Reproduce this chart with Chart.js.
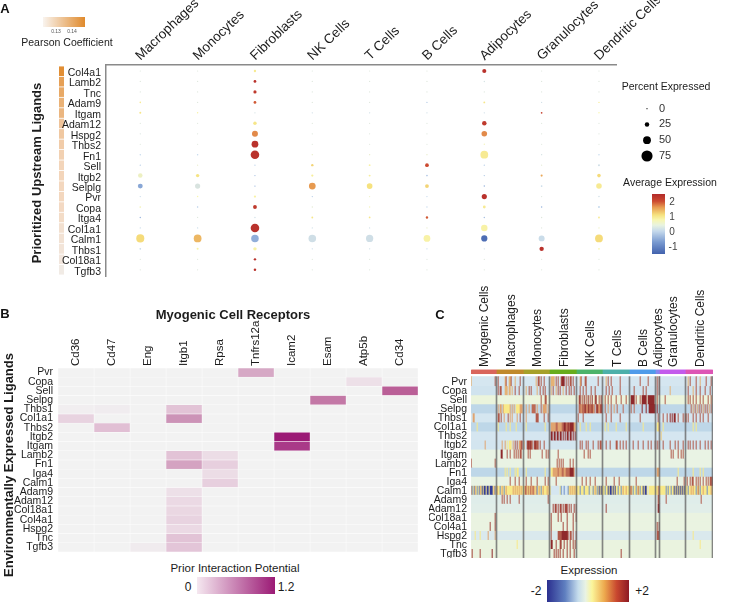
<!DOCTYPE html>
<html>
<head>
<meta charset="utf-8">
<script src="https://cdn.jsdelivr.net/npm/chart.js@4"></script>
<style>
  html, body { margin: 0; padding: 0; background: #fff; }
  body { position: relative; width: 747px; height: 604px; overflow: hidden; font-family: "Liberation Sans", Arial, sans-serif; color: #1c1c1c; }
  canvas { position: absolute; }
  .t { position: absolute; transform: translate(-50%, -50%); white-space: nowrap; }
  .rot { transform: translate(-50%, -50%) rotate(-90deg); font-weight: bold; font-size: 13px; }
  .letter { font-weight: bold; font-size: 13px; color: #111; }
  .bar { position: absolute; }
</style>
</head>
<body>
<canvas id="chartStrip" style="left:59px;top:66px;width:5px;height:209px"></canvas>
<canvas id="chartDots" style="left:0;top:0;width:660px;height:277px"></canvas>
<canvas id="chartSize" style="left:640px;top:100px;width:44px;height:64px"></canvas>
<canvas id="chartPrior" style="left:0;top:315px;width:418px;height:237px"></canvas>
<canvas id="chartExpr" style="left:429px;top:277px;width:284px;height:281px"></canvas>

<div class="t letter" style="left:5px;top:8px">A</div>
<div class="t letter" style="left:5px;top:313px">B</div>
<div class="t letter" style="left:440px;top:314px">C</div>

<div class="bar" style="left:43px;top:17px;width:42px;height:10px;background:linear-gradient(to right,#f9f4ef,#e08a2c)"></div>
<div class="t" style="left:56px;top:31px;font-size:5px;color:#555">0.13</div>
<div class="t" style="left:72px;top:31px;font-size:5px;color:#555">0.14</div>
<div class="t" style="left:67px;top:42px;font-size:10.5px">Pearson Coefficient</div>
<div class="t rot" style="left:36px;top:173px">Prioritized Upstream Ligands</div>

<div class="t" style="left:666px;top:86px;font-size:10.5px">Percent Expressed</div>
<div class="t" style="left:670px;top:182px;font-size:10.5px">Average Expression</div>
<div class="bar" style="left:652px;top:194px;width:13px;height:60px;background:linear-gradient(to bottom,#b22a2a,#cc4a30 12%,#e79a50 22%,#f6e27f 35%,#f8f6b0 43%,#e8f3e0 52%,#c5d9ec 62%,#7a9bd1 80%,#4262ad)"></div>
<div class="t" style="left:672px;top:201px;font-size:10px;color:#444">2</div>
<div class="t" style="left:672px;top:216px;font-size:10px;color:#444">1</div>
<div class="t" style="left:672px;top:231px;font-size:10px;color:#444">0</div>
<div class="t" style="left:673px;top:246px;font-size:10px;color:#444">-1</div>

<div class="t" style="left:233px;top:314px;font-size:13px;font-weight:bold">Myogenic Cell Receptors</div>
<div class="t rot" style="left:8px;top:465px">Environmentally Expressed Ligands</div>
<div class="t" style="left:235px;top:568px;font-size:11.5px">Prior Interaction Potential</div>
<div class="bar" style="left:197px;top:577px;width:78px;height:17px;background:linear-gradient(to right,#f5e8f0,#9b1a75)"></div>
<div class="t" style="left:188px;top:587px;font-size:12px">0</div>
<div class="t" style="left:286px;top:587px;font-size:12px">1.2</div>

<div class="t" style="left:589px;top:570px;font-size:11.5px">Expression</div>
<div class="bar" style="left:547px;top:580px;width:82px;height:22px;background:linear-gradient(to right,#2b2f8f,#5f7fc0 22%,#c5dcec 38%,#e9f3e4 47%,#fbf59a 55%,#eda94e 70%,#c8472f 85%,#8e1a24)"></div>
<div class="t" style="left:536px;top:591px;font-size:12px">-2</div>
<div class="t" style="left:642px;top:591px;font-size:12px">+2</div>

<script>
// ---------- panel A ----------
var dotCells = ['Macrophages', 'Monocytes', 'Fibroblasts', 'NK Cells', 'T Cells', 'B Cells', 'Adipocytes', 'Granulocytes', 'Dendritic Cells'];
var dotLigands = ['Col4a1', 'Lamb2', 'Tnc', 'Adam9', 'Itgam', 'Adam12', 'Hspg2', 'Thbs2', 'Fn1', 'Sell', 'Itgb2', 'Selplg', 'Pvr', 'Copa', 'Itga4', 'Col1a1', 'Calm1', 'Thbs1', 'Col18a1', 'Tgfb3'];
var pearson = [.146, .142, .14, .138, .137, .134, .133, .132, .131, .13, .13, .129, .129, .128, .127, .125, .124, .123, .122, .12];

var pctMac  = [0, 0, 0, 3, 6, 0, 0, 0, 2, 1, 25, 28, 1, 4, 2, 1, 52, 4, 0, 0];
var expMac  = [0, 0, 0, .8, .9, 0, -.1, 0, -.5, -.6, .3, -.9, -.4, .4, -.8, -.4, 1.05, -.4, 0, 0];
var pctMono = [0, 0, 0, 0, 2, 0, 0, 0, 2, 0, 17, 30, 2, 2, 0, 1, 50, 6, 0, 0];
var expMono = [0, 0, 0, 0, .6, 0, 0, 0, -.5, .2, .95, -.1, .5, -.6, 0, -.4, 1.3, .6, 0, 0];
var pctFib  = [9, 12, 15, 12, 1, 17, 36, 42, 56, 0, 1, 1, 8, 20, 1, 56, 48, 17, 9, 10];
var expFib  = [.8, 2.3, 2.2, 1.9, -.2, .9, 1.6, 2.3, 2.3, -.6, -.7, -.8, .6, 2.2, -.3, 2.3, -.85, .6, 2.3, 2.3];
var pctNK   = [0, 0, 0, 0, 1, 0, 0, 0, 1, 9, 8, 42, 1, 1, 5, 0, 48, 1, 0, 0];
var expNK   = [0, 0, 0, 0, -.3, 0, 0, 0, .2, 1.1, .7, 1.5, -.6, .1, .9, -.3, -.3, -.4, 0, 0];
var pctT    = [0, 0, 0, 0, 1, 0, 0, 0, 1, 5, 6, 34, 0, 1, 4, 0, 46, 1, 0, 0];
var expT    = [0, 0, 0, 0, -.3, 0, 0, 0, .2, .6, .7, 1, .3, .4, .9, -.3, -.3, -.3, 0, 0];
var pctB    = [0, 0, 0, 1, 1, 0, 0, 0, 1, 19, 3, 20, 1, 1, 9, 0, 42, 1, 0, 0];
var expB    = [0, 0, 0, -.6, -.3, 0, 0, 0, .2, 2, -.7, 1.1, -.5, -.5, 1.9, .2, .6, -.5, 0, 0];
var pctAdip = [22, 1, 0, 5, 1, 25, 33, 1, 50, 1, 2, 2, 30, 12, 2, 40, 38, 1, 1, 0];
var expAdip = [2.3, -.2, 0, .9, -.3, 2.2, 1.6, .4, .8, -.6, -.6, -.8, 2.3, .8, -.7, .6, -1.4, -.3, 0, 0];
var pctGran = [0, 0, 0, 0, 4, 0, 0, 0, 1, 0, 7, 4, 0, 2, 1, 0, 36, 24, 0, 0];
var expGran = [0, 0, 0, -.3, 2.1, 0, 0, 0, -.2, .1, 1.4, -.4, 0, -.8, 0, 0, -.4, 2.3, 0, 0];
var pctDC   = [0, 0, 0, 2, 2, 0, 0, 0, 2, 6, 18, 33, 2, 6, 5, 1, 50, 4, 0, 0];
var expDC   = [0, 0, 0, .7, .5, 0, 0, 0, -.5, -.3, 1.05, .8, -.3, -.5, .8, .3, 1.05, .5, 0, 0];

var sizeLegend = [0, 25, 50, 75];

// ---------- panel B ----------
var priorLigands = ['Pvr', 'Copa', 'Sell', 'Selpg', 'Thbs1', 'Col1a1', 'Thbs2', 'Itgb2', 'Itgam', 'Lamb2', 'Fn1', 'Iga4', 'Calm1', 'Adam9', 'Adam12', 'Col18a1', 'Col4a1', 'Hspg2', 'Tnc', 'Tgfb3'];
var receptors = ['Cd36', 'Cd47', 'Eng', 'Itgb1', 'Rpsa', 'Tnfrs12a', 'Icam2', 'Esam', 'Atp5b', 'Cd34'];
var priorCd36     = [0, 0, 0, 0, .03, .2, 0, 0, 0, 0, 0, 0, 0, 0, 0, 0, 0, 0, 0, 0];
var priorCd47     = [0, 0, 0, 0, .04, 0, .3, 0, 0, 0, 0, 0, 0, 0, 0, 0, 0, 0, 0, 0];
var priorEng      = [0, 0, 0, 0, 0, 0, 0, 0, 0, 0, 0, 0, 0, 0, 0, 0, 0, 0, 0, .05];
var priorItgb1    = [0, 0, 0, 0, .28, .58, 0, 0, 0, .28, .48, 0, 0, .13, .17, .18, .2, .17, .28, .27];
var priorRpsa     = [0, 0, 0, 0, 0, 0, 0, 0, 0, .15, .22, .15, .22, 0, 0, 0, 0, 0, 0, 0];
var priorTnfrs12a = [.45, 0, 0, 0, 0, 0, 0, 0, 0, 0, 0, 0, 0, 0, 0, 0, 0, 0, 0, 0];
var priorIcam2    = [0, 0, 0, 0, 0, 0, 0, 1.2, 1.05, 0, 0, 0, 0, 0, 0, 0, 0, 0, 0, 0];
var priorEsam     = [0, 0, 0, .7, 0, 0, 0, 0, 0, 0, 0, 0, 0, 0, 0, 0, 0, 0, 0, 0];
var priorAtp5b    = [0, .13, 0, 0, 0, 0, 0, 0, 0, 0, 0, 0, 0, 0, 0, 0, 0, 0, 0, 0];
var priorCd34     = [0, 0, .8, 0, 0, 0, 0, 0, 0, 0, 0, 0, 0, 0, 0, 0, 0, 0, 0, 0];

// ---------- panel C ----------
// one column per pixel of the heatmap, [level, [columns]] stripes on a per-gene base level
var cellColumns = 242;
var groupNames = ['Myogenic Cells', 'Macrophages', 'Monocytes', 'Fibroblasts', 'NK Cells', 'T Cells', 'B Cells', 'Adipocytes', 'Granulocytes', 'Dendritic Cells'];
var groupEnds  = [26, 53, 79, 106, 132, 159, 185, 189, 215, 242];
var groupColors = ['#d9665c', '#c08a2c', '#a6a02a', '#67ad1d', '#4cb36a', '#4cb0aa', '#4f9cea', '#8a86ee', '#c35cec', '#dd55b5'];
var exprBase = [-.2, -.25, .05, -.45, -.2, -.45, -.2, -.22, 0, 0, -.45, 0, .6, -.1, -.08, .02, .02, -.15, .03, .03];

var stripesPvr = [[1, [0, 34, 38, 39, 44, 65, 80, 81, 82, 83, 109, 135, 217, 229]], [1.6, [24, 27, 35, 40, 49, 67, 68, 70, 73, 85, 87, 90, 95, 97, 99, 100, 102, 110, 114, 115, 127, 137, 140, 149, 169, 177, 186, 188, 219, 225, 235, 240]], [1.9, [91, 92, 93]]];
var stripesCopa = [[1, [34, 35, 36, 38, 39, 41, 55, 66, 80, 85, 92, 199, 222]], [1.6, [27, 29, 30, 44, 48, 58, 60, 69, 72, 74, 82, 87, 89, 95, 98, 100, 103, 109, 112, 115, 120, 124, 135, 138, 141, 149, 163, 172, 175, 186, 188, 217, 225, 229, 234, 239]]];
var stripesSell = [[1.6, [70, 74, 75, 108, 111, 115, 119, 124, 128, 134, 137, 140, 145, 150, 155, 165, 169, 186, 194, 217, 219, 222, 225, 229, 232, 237, 240]], [1.9, [109, 113, 117, 121, 125, 130, 160, 161, 162, 163, 171, 172, 173, 174, 175, 177, 178, 179, 180, 181, 182, 183]]];
var stripesSelpg = [[.6, [33, 34, 35, 36, 37, 38, 45, 46, 47, 48]], [1.1, [27, 29, 30, 32, 39, 41, 43, 49, 50, 51, 55, 58, 66, 72, 73, 74, 75, 77, 110, 116, 122, 128, 137, 143, 222, 226, 232, 238]], [1.5, [61, 62, 63, 64, 70, 108, 109, 111, 112, 113, 115, 118, 119, 120, 123, 125, 127, 129, 131, 134, 140, 146, 152, 160, 163, 220, 224, 228, 230, 234, 236, 240]], [1.9, [114, 117, 121, 126, 130, 171, 175, 178, 179, 180, 181, 182, 183, 184, 186]]];
var stripesThbs1 = [[1.1, [2, 3, 33, 39, 41, 46, 55]], [1.6, [27, 28, 30, 37, 49, 65, 66, 67, 73, 77, 107, 112, 135, 140, 149, 169, 187, 192, 196, 207, 212, 214, 215, 217, 222, 225, 229, 232, 237]], [1.9, [199, 201, 203, 204]]];
var stripesCol1a1 = [[.6, [6, 27, 35, 39, 45, 55, 74, 109, 115, 119, 134, 137, 145, 155, 172, 192, 222, 225, 186, 187]], [1.1, [80, 81, 82, 83, 84, 87, 88, 89, 90, 103, 104, 188]], [1.5, [85, 86, 91, 92, 95, 96, 98]], [1.9, [93, 94, 97, 99, 100, 101, 102]]];
var stripesThbs2 = [[1.9, [80, 81, 83, 84, 86, 87, 89, 90, 92, 94, 96, 97, 99, 100, 102, 104]], [.8, [190]]];
var stripesItgb2 = [[.6, [36, 38, 39, 40]], [1.1, [14, 31, 34, 42, 48, 49, 53]], [1.6, [44, 46, 50, 51, 56, 58, 60, 61, 63, 65, 66, 67, 69, 73, 109, 111, 115, 117, 122, 127, 129, 130, 135, 139, 145, 146, 149, 152, 155, 162, 167, 172, 177, 180, 184, 186, 188, 192, 199, 204, 207, 212, 217, 219, 222, 225, 229, 234, 237, 240]], [1.9, [57, 59, 64]]];
var stripesItgam = [[1.6, [36, 39, 43, 45, 47, 49, 50, 57, 59, 71, 75, 77, 87, 113, 117, 119, 200, 202, 207, 210, 212]], [1.9, [30, 31]]];
var stripesLamb2 = [[1.6, [0, 24, 86, 88, 90, 92, 99, 102]]];
var stripesFn1 = [[.6, [34, 36, 39, 44, 46, 47, 55, 74, 207, 222, 229, 232, 80, 81]], [1.1, [82, 83, 84, 85, 86, 88, 89, 90, 93, 94, 103, 186, 187, 188]], [1.5, [87, 91, 92, 95, 96, 97, 98]], [1.9, [99, 100, 101, 102]]];
var stripesIga4 = [[1.6, [39, 44, 48, 55, 60, 66, 74, 77, 85, 111, 115, 119, 124, 135, 143, 148, 165, 206, 213, 216, 219, 221, 222, 225, 227, 229, 232, 235, 237, 239, 240, 241]]];
var stripesCalm1 = [[-1.8, [11, 13, 14, 16, 17, 19, 20, 21, 128, 130, 137, 139, 140, 142, 144, 172, 174, 175, 203, 205, 207, 209, 211, 213]], [-.9, [1, 3, 6, 8, 24, 29, 33, 66, 70, 90, 93, 97, 109, 113, 118, 122, 126, 134, 147, 150, 162, 165, 169, 195, 197, 200, 217, 225, 229, 236]], [-.2, [80, 81, 82, 83, 84, 85, 86, 87, 88, 91, 92, 94, 95, 96, 120, 177]], [1.1, [0, 4, 9, 23, 26, 31, 35, 42, 44, 46, 48, 50, 60, 61, 63, 65, 68, 72, 76, 78, 99, 101, 103, 105, 124, 152, 155, 159, 187, 220, 222, 232, 240]], [1.5, [54, 55, 57, 59, 62, 160, 167, 188, 227]]];
var stripesAdam9 = [[1.6, [31, 33, 36, 39, 48, 77, 187, 188, 195, 230]]];
var stripesAdam12 = [[1.7, [82, 84, 85, 87, 89, 90, 92, 94, 95, 96, 98, 100, 103, 105, 135]], [1.9, [187, 188]]];
var stripesCol18a1 = [[1.7, [24, 80, 87, 90, 96, 102, 105]]];
var stripesCol4a1 = [[1.7, [19, 24, 80, 92, 96, 102, 186, 188]]];
var stripesHspg2 = [[.6, [4, 9, 222]], [1.1, [17, 24]], [1.6, [80, 87, 88, 89, 90, 97, 99, 100, 102, 105, 186, 187, 188]], [1.9, [91, 92, 93, 94, 95, 96]]];
var stripesTnc = [[.6, [46, 229]], [1.7, [85, 89, 90, 93, 96, 99, 102, 104]], [1.9, [80, 81]]];
var stripesTgfb3 = [[1.7, [1, 9, 83, 85, 87, 89, 92, 96, 99, 103, 150]], [1.9, [21]]];
var exprStripes = [stripesPvr, stripesCopa, stripesSell, stripesSelpg, stripesThbs1, stripesCol1a1, stripesThbs2, stripesItgb2, stripesItgam, stripesLamb2, stripesFn1, stripesIga4, stripesCalm1, stripesAdam9, stripesAdam12, stripesCol18a1, stripesCol4a1, stripesHspg2, stripesTnc, stripesTgfb3];

// ---------- colours ----------
function hexRgb(h) {
  return [parseInt(h.substr(1, 2), 16), parseInt(h.substr(3, 2), 16), parseInt(h.substr(5, 2), 16)];
}
function colorOf(stops, v) {
  if (v <= stops[0][0]) return stops[0][1];
  for (var i = 1; i < stops.length; i++) {
    if (v <= stops[i][0]) {
      var t = (v - stops[i - 1][0]) / (stops[i][0] - stops[i - 1][0]);
      var a = hexRgb(stops[i - 1][1]), b = hexRgb(stops[i][1]);
      return 'rgb(' + Math.round(a[0] + (b[0] - a[0]) * t) + ',' + Math.round(a[1] + (b[1] - a[1]) * t) + ',' + Math.round(a[2] + (b[2] - a[2]) * t) + ')';
    }
  }
  return stops[stops.length - 1][1];
}
var dotStops = [[-1.5, '#4262ad'], [-1, '#7a9bd1'], [-.5, '#c5d9ec'], [0, '#dde6dc'], [.5, '#f8f6b0'], [1, '#f6e27f'], [1.5, '#e79a50'], [2, '#cc4a30'], [2.4, '#b22a2a']];
var priorStops = [[0, '#f2f2f2'], [.15, '#ecdde6'], [.3, '#e1bfd4'], [.6, '#cb90b5'], [.8, '#ba5f97'], [1.05, '#a93a88'], [1.2, '#9b1a75']];
var exprStops = [[-2, '#2b2f8f'], [-1, '#5f7fc0'], [-.45, '#bed7e8'], [-.2, '#d5e6f0'], [0, '#e9f3e4'], [.3, '#f5f7b5'], [.6, '#f8e98a'], [1.1, '#e0a470'], [1.5, '#bd6a55'], [1.9, '#8e2a2c']];
var pearsonStops = [[.118, '#f1efee'], [.13, '#f3d5ba'], [.147, '#e08a2c']];

// ---------- helpers ----------
var FONT = '"Liberation Sans", Arial, sans-serif';

// pin an axis box to a fixed size so the plot area lands where it should
function fixBox(size) {
  return function (scale) {
    if (scale.isHorizontal()) scale.height = size; else scale.width = size;
    scale.paddingLeft = scale.paddingRight = scale.paddingTop = scale.paddingBottom = 0;
  };
}
function tickValues(values) {
  return function (scale) {
    scale.ticks = values.map(function (v) { return { value: v }; });
  };
}
function labelsFrom(list) {
  return function (value, index) { return list[index]; };
}
function indexes(list) {
  return list.map(function (_, i) { return i; });
}
var baseOpts = { responsive: false, animation: false, events: [], plugins: { legend: { display: false }, tooltip: { enabled: false } } };
function opts(extra) {
  var o = Object.assign({}, baseOpts, extra);
  o.layout = Object.assign({ autoPadding: false }, extra.layout);
  return o;
}
function size(id) {
  var c = document.getElementById(id);
  c.width = parseInt(c.style.width);
  c.height = parseInt(c.style.height);
  return c;
}

// ---------- Pearson strip ----------
new Chart(size('chartStrip'), {
  type: 'bar',
  data: {
    labels: dotLigands,
    datasets: [{
      data: pearson,
      backgroundColor: pearson.map(function (v) { return colorOf(pearsonStops, v); }),
      barPercentage: 1,
      categoryPercentage: .92
    }]
  },
  options: opts({
    indexAxis: 'y',
    scales: {
      x: { display: false, min: 0, max: .1 },
      y: { display: false }
    }
  })
});

// ---------- dot plot ----------
var pctSeries = [pctMac, pctMono, pctFib, pctNK, pctT, pctB, pctAdip, pctGran, pctDC];
var expSeries = [expMac, expMono, expFib, expNK, expT, expB, expAdip, expGran, expDC];
function radiusOf(pct) { return .6 + pct * .066; }

new Chart(size('chartDots'), {
  type: 'bubble',
  data: {
    datasets: dotCells.map(function (name, j) {
      return {
        label: name,
        data: pctSeries[j].map(function (p, i) { return { x: j, y: i, r: radiusOf(p) }; }),
        backgroundColor: expSeries[j].map(function (e) { return colorOf(dotStops, e); }),
        borderWidth: 0
      };
    })
  },
  options: opts({
    layout: { padding: { right: 44 } },
    scales: {
      x: {
        type: 'linear', position: 'top', min: -.598, max: 8.297,
        grid: { display: false, drawTicks: false },
        border: { display: true, color: '#8a8a8a', width: 1.5 },
        afterBuildTicks: tickValues(indexes(dotCells)),
        afterFit: fixBox(65),
        ticks: { autoSkip: false, minRotation: 44, maxRotation: 44, padding: 1, labelOffset: 9, color: '#1c1c1c', font: { family: FONT, size: 13.5 }, callback: labelsFrom(dotCells) }
      },
      y: {
        type: 'linear', reverse: true, min: -.574, max: 19.69,
        grid: { display: false, drawTicks: false },
        border: { display: true, color: '#8a8a8a', width: 1.5 },
        afterBuildTicks: tickValues(indexes(dotLigands)),
        afterFit: fixBox(106),
        ticks: { autoSkip: false, padding: 5, labelOffset: 2, color: '#1c1c1c', font: { family: FONT, size: 10.5 }, callback: labelsFrom(dotLigands) }
      }
    }
  })
});

// ---------- size legend ----------
new Chart(size('chartSize'), {
  type: 'bubble',
  data: {
    datasets: [{
      data: sizeLegend.map(function (p, i) { return { x: 0, y: i, r: radiusOf(p) }; }),
      backgroundColor: '#000',
      borderWidth: 0
    }]
  },
  options: opts({
    scales: {
      x: { type: 'linear', display: false, min: -1, max: 1 },
      y: {
        type: 'linear', position: 'right', reverse: true, min: -.55, max: 3.51,
        grid: { display: false, drawTicks: false },
        border: { display: false },
        afterBuildTicks: tickValues(indexes(sizeLegend)),
        afterFit: fixBox(30),
        ticks: { autoSkip: false, padding: 5, color: '#333', font: { family: FONT, size: 11 }, callback: labelsFrom(sizeLegend) }
      }
    }
  })
});

// ---------- prior interaction heatmap ----------
var priorSeries = [priorCd36, priorCd47, priorEng, priorItgb1, priorRpsa, priorTnfrs12a, priorIcam2, priorEsam, priorAtp5b, priorCd34];

new Chart(size('chartPrior'), {
  type: 'bar',
  data: {
    labels: priorLigands,
    datasets: receptors.map(function (name, j) {
      return {
        label: name,
        data: priorSeries[j].map(function () { return [j, j + 1]; }),
        backgroundColor: priorSeries[j].map(function (v) { return colorOf(priorStops, v); }),
        borderColor: '#fff',
        borderWidth: .5,
        borderSkipped: false,
        grouped: false,
        barPercentage: 1,
        categoryPercentage: 1
      };
    })
  },
  options: opts({
    indexAxis: 'y',
    scales: {
      x: {
        type: 'linear', position: 'top', min: 0, max: 10,
        grid: { display: false, drawTicks: false },
        border: { display: false },
        afterBuildTicks: tickValues(receptors.map(function (_, j) { return j + .5; })),
        afterFit: fixBox(53),
        ticks: { autoSkip: false, minRotation: 90, maxRotation: 90, padding: 2, labelOffset: 14, color: '#1c1c1c', font: { family: FONT, size: 11.5 }, callback: labelsFrom(receptors) }
      },
      y: {
        type: 'category',
        grid: { display: false, drawTicks: false },
        border: { display: false },
        afterFit: fixBox(58),
        ticks: { autoSkip: false, padding: 5, color: '#1c1c1c', font: { family: FONT, size: 10.5 } }
      }
    }
  })
});

// ---------- expression heatmap ----------
var columnLabels = [];
for (var c = 0; c < cellColumns; c++) columnLabels.push(c);

function groupOfColumn(c) {
  for (var g = 0; g < groupEnds.length; g++) if (c < groupEnds[g]) return g;
  return groupEnds.length - 1;
}
var groupCenters = groupEnds.map(function (end, g) {
  return Math.round(((g ? groupEnds[g - 1] : 0) + end) / 2);
});

var exprDatasets = priorLigands.map(function (name, r) {
  var levels = columnLabels.map(function () { return exprBase[r]; });
  exprStripes[r].forEach(function (s) {
    s[1].forEach(function (col) { levels[col] = s[0]; });
  });
  return {
    label: name,
    data: columnLabels.map(function () { return [r, r + 1]; }),
    backgroundColor: levels.map(function (v) { return colorOf(exprStops, v); }),
    grouped: false,
    barPercentage: 1,
    categoryPercentage: 1
  };
});
// group colour band above the rows
exprDatasets.push({
  label: 'group',
  data: columnLabels.map(function () { return [-.74, -.33]; }),
  backgroundColor: columnLabels.map(function (c) { return groupColors[groupOfColumn(c)]; }),
  grouped: false,
  barPercentage: 1,
  categoryPercentage: 1
});
// grey separators between the groups
exprDatasets.push({
  label: 'separator',
  data: columnLabels.map(function (c) { return groupEnds.indexOf(c + 1) >= 0 ? [0, 20] : null; }),
  backgroundColor: 'rgba(105,105,105,.8)',
  grouped: false,
  barPercentage: 1,
  categoryPercentage: 1,
  order: -1
});

new Chart(size('chartExpr'), {
  type: 'bar',
  data: { labels: columnLabels, datasets: exprDatasets },
  options: opts({
    scales: {
      x: {
        type: 'category', position: 'top',
        grid: { display: false, drawTicks: false },
        border: { display: false },
        afterBuildTicks: tickValues(groupCenters),
        afterFit: fixBox(92),
        ticks: { autoSkip: false, minRotation: 90, maxRotation: 90, padding: 2, labelOffset: 15, color: '#1c1c1c', font: { family: FONT, size: 12 }, callback: labelsFrom(groupNames) }
      },
      y: {
        type: 'linear', reverse: true, min: -.85, max: 20.03,
        grid: { display: false, drawTicks: false },
        border: { display: false },
        afterBuildTicks: tickValues(priorLigands.map(function (_, i) { return i + .5; })),
        afterFit: fixBox(42),
        ticks: { autoSkip: false, padding: 4, labelOffset: 1, color: '#1c1c1c', font: { family: FONT, size: 10.5 }, callback: labelsFrom(priorLigands) }
      }
    }
  })
});
</script>
</body>
</html>
